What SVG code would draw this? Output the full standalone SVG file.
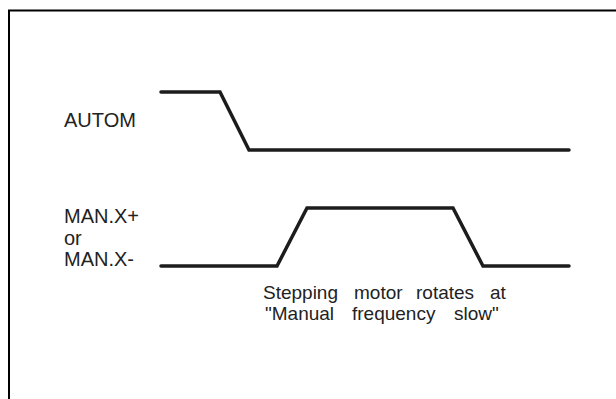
<svg xmlns="http://www.w3.org/2000/svg" width="616" height="399" viewBox="0 0 616 399">
<style>
.lbl{font-family:"Liberation Sans",Arial,sans-serif;font-size:20px;fill:#222}
.note{font-family:"Liberation Sans",Arial,sans-serif;font-size:19px;fill:#222}
.sig{fill:none;stroke:#1c1c1c;stroke-width:3.5;stroke-linejoin:miter;stroke-linecap:round}
</style>
<rect width="616" height="399" fill="#fff"/>
<path d="M9 399 V10.5 H616" fill="none" stroke="#000" stroke-width="2"/>
<g id="autom">
<text class="lbl" x="64" y="127">AUTOM</text>
</g>
<g id="manx">
<text class="lbl" x="64" y="223">MAN.X+</text>
<text class="lbl" x="64" y="245">or</text>
<text class="lbl" x="64" y="266">MAN.X-</text>
</g>
<g id="note">
<text class="note" y="299"><tspan x="263">Stepping</tspan><tspan x="354">motor</tspan><tspan x="416">rotates</tspan><tspan x="490">at</tspan></text>
<text class="note" y="320"><tspan x="265">"Manual</tspan><tspan x="352">frequency</tspan><tspan x="454">slow"</tspan></text>
</g>
<g id="connectors">
<path class="sig" d="M161 92 H220 L249 150 H569"/>
<path class="sig" d="M161 266 H277 L307 208 H453 L483 266 H569"/>
</g>
</svg>
